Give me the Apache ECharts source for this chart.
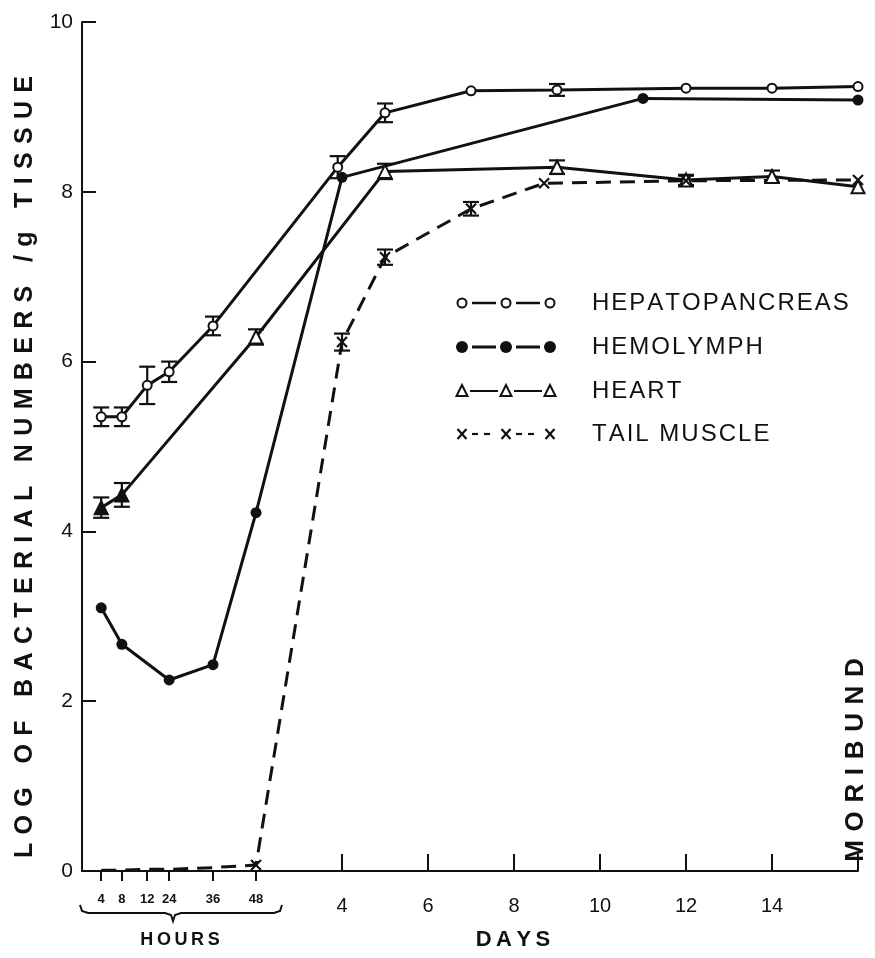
<!DOCTYPE html>
<html><head><meta charset="utf-8">
<script src="https://cdn.jsdelivr.net/npm/echarts@6/dist/echarts.min.js"></script>
<style>html,body{margin:0;padding:0;background:#fff}#c{width:875px;height:958px}</style>
</head><body><div id="c"></div>
<script>
// ---- axis definitions (broken x axis: first 48 hours, then days) ----
const hourTicks = [4, 8, 12, 24, 36, 48];
const hourTickPos = [-1.6, -1.12, -0.53, -0.02, 1.0, 2.0]; // axis position of each hour tick (day units)
const dayTicks = [4, 6, 8, 10, 12, 14, 16];
const dayTickLabels = ['4', '6', '8', '10', '12', '14', ''];
const yTickInterval = 2;

// ---- HEPATOPANCREAS ----
const hepatoHours = [4, 8, 12, 24, 36];
const hepatoHourVals = [5.35, 5.35, 5.72, 5.88, 6.42];
const hepatoHourErr = [0.11, 0.11, 0.22, 0.12, 0.11];
const hepatoDays = [3.9, 5, 7, 9, 12, 14, 16];
const hepatoDayVals = [8.29, 8.93, 9.19, 9.2, 9.22, 9.22, 9.24];
const hepatoDayErr = [0.13, 0.11, 0, 0.07, 0, 0, 0];

// ---- HEMOLYMPH ----
const hemoHours = [4, 8, 24, 36, 48];
const hemoHourVals = [3.10, 2.67, 2.25, 2.43, 4.22];
const hemoDays = [4, 11, 16];
const hemoDayVals = [8.17, 9.1, 9.08];

// ---- HEART ----
const heartHours = [4, 8, 48];
const heartHourVals = [4.28, 4.43, 6.29];
const heartHourErr = [0.12, 0.14, 0.09];
const heartDays = [5, 9, 12, 14, 16];
const heartDayVals = [8.24, 8.29, 8.14, 8.18, 8.06];
const heartDayErr = [0.09, 0.08, 0.06, 0.07, 0];

// ---- TAIL MUSCLE ----
const tailHours = [4, 8, 12, 24, 36, 48];
const tailHourVals = [0.01, 0.01, 0.02, 0.02, 0.04, 0.07];
const tailDays = [4, 5, 7, 8.7, 12, 16];
const tailDayVals = [6.23, 7.23, 7.8, 8.1, 8.13, 8.14];
const tailDayErr = [0.1, 0.09, 0.08, 0, 0.06, 0];

// ---- helpers ----
const hourPos = h => hourTickPos[hourTicks.indexOf(h)];
function pts(hours, hv, days, dv) {
  const a = hours.map((h, i) => [hourPos(h), hv[i]]);
  return a.concat(days.map((d, i) => [d, dv[i]]));
}
function errPts(hours, hv, he, days, dv, de) {
  const out = [];
  hours.forEach((h, i) => { if (he && he[i] > 0) out.push([hourPos(h), hv[i], he[i]]); });
  days.forEach((d, i) => { if (de && de[i] > 0) out.push([d, dv[i], de[i]]); });
  return out;
}
const spaced = (s, sep) => s.split('').join(sep);
const INK = '#111';
const FONT = '"Liberation Sans", Arial, Helvetica, sans-serif';

function renderErr(params, api) {
  const x = api.value(0), y = api.value(1), e = api.value(2);
  const t = api.coord([x, y + e]), b = api.coord([x, y - e]);
  const hw = 8;
  const st = { stroke: INK, lineWidth: 2.2 };
  return { type: 'group', children: [
    { type: 'line', shape: { x1: t[0], y1: t[1], x2: b[0], y2: b[1] }, style: st },
    { type: 'line', shape: { x1: t[0] - hw, y1: t[1], x2: t[0] + hw, y2: t[1] }, style: st },
    { type: 'line', shape: { x1: b[0] - hw, y1: b[1], x2: b[0] + hw, y2: b[1] }, style: st }
  ]};
}
function errSeries(data) {
  return { type: 'custom', renderItem: renderErr, data: data, encode: { x: 0, y: 1 }, clip: false, z: 1, silent: true };
}

const X_SYM = 'path://M0,0L10,10M10,0L0,10';

const hepatoData = pts(hepatoHours, hepatoHourVals, hepatoDays, hepatoDayVals);
const hemoData = pts(hemoHours, hemoHourVals, hemoDays, hemoDayVals);
const heartData = pts(heartHours, heartHourVals, heartDays, heartDayVals).map((p, i) =>
  ({ value: p, symbol: i < 2 ? 'triangle' : 'emptyTriangle' }));
const tailData = pts(tailHours, tailHourVals, tailDays, tailDayVals).map((p, i) =>
  ({ value: p, symbol: (i < tailHours.length - 1) ? 'none' : X_SYM }));

const chart = echarts.init(document.getElementById('c'), null, { renderer: 'canvas' });

const lbl = (v, arr, labels) => {
  const i = arr.findIndex(p => Math.abs(p - v) < 1e-6);
  return i >= 0 ? labels[i] : '';
};

// legend graphics
const legX = [462, 506, 550];
const legY = [303, 347, 391, 434];
const legendEls = [];
function legLine(x1, x2, y1, w, y2) {
  legendEls.push({ type: 'line', shape: { x1, y1, x2, y2: (y2 === undefined ? y1 : y2) }, style: { stroke: INK, lineWidth: w || 2.5 } });
}
// row 1: open circles
legLine(472, 496, legY[0]); legLine(516, 540, legY[0]);
legX.forEach(x => legendEls.push({ type: 'circle', shape: { cx: x, cy: legY[0], r: 4.5 }, style: { fill: '#fff', stroke: INK, lineWidth: 2 } }));
// row 2: filled circles
legLine(472, 496, legY[1], 3); legLine(516, 540, legY[1], 3);
legX.forEach(x => legendEls.push({ type: 'circle', shape: { cx: x, cy: legY[1], r: 6 }, style: { fill: INK } }));
// row 3: open triangles
legLine(470, 498, legY[2], 2); legLine(514, 542, legY[2], 2);
legX.forEach(x => legendEls.push({ type: 'polygon', shape: { points: [[x, legY[2] - 6], [x - 5.5, legY[2] + 5], [x + 5.5, legY[2] + 5]] }, style: { fill: '#fff', stroke: INK, lineWidth: 2 } }));
// row 4: x - - x - - x
legX.forEach(x => {
  legLine(x - 4.5, x + 4.5, legY[3] - 5, 2.2, legY[3] + 5);
  legLine(x + 4.5, x - 4.5, legY[3] - 5, 2.2, legY[3] + 5);
});
[[472, 478], [484, 490], [516, 522], [528, 534]].forEach(s => legLine(s[0], s[1], legY[3], 2.2));
const legNames = ['HEPATOPANCREAS', 'HEMOLYMPH', 'HEART', 'TAIL MUSCLE'];
legNames.forEach((n, i) => legendEls.push({ type: 'text', x: 592, y: legY[i], style: { text: spaced(n, '\u200A'), font: `24px ${FONT}`, fill: INK, textVerticalAlign: 'middle', textAlign: 'left' } }));

const option = {
  backgroundColor: '#fff',
  animation: false,
  grid: { left: 82, right: 17, top: 22, bottom: 87, containLabel: false },
  xAxis: [
    { type: 'value', min: -2.047, max: 16, position: 'bottom',
      axisLine: { show: true, onZero: false, lineStyle: { color: INK, width: 2 } },
      axisTick: { show: true, inside: false, length: 10, customValues: hourTickPos, lineStyle: { color: INK, width: 2 } },
      axisLabel: { customValues: hourTickPos, formatter: v => lbl(v, hourTickPos, hourTicks.map(String)), fontSize: 13, fontWeight: 'bold', fontFamily: FONT, color: INK, margin: 22 },
      splitLine: { show: false } },
    { type: 'value', min: -2.047, max: 16, position: 'bottom',
      axisLine: { show: false, onZero: false },
      axisTick: { show: true, inside: true, length: 17, customValues: dayTicks, lineStyle: { color: INK, width: 2 } },
      axisLabel: { customValues: dayTicks, formatter: v => lbl(v, dayTicks, dayTickLabels), fontSize: 20, fontFamily: FONT, color: INK, margin: 25 },
      splitLine: { show: false } }
  ],
  yAxis: { type: 'value', min: 0, max: 10, interval: yTickInterval, position: 'left',
    axisLine: { show: true, onZero: false, lineStyle: { color: INK, width: 2 } },
    axisTick: { show: true, inside: true, length: 14, lineStyle: { color: INK, width: 2 } },
    axisLabel: { fontSize: 21, fontFamily: FONT, color: INK, margin: 9 },
    splitLine: { show: false } },
  series: [
    errSeries(errPts(hepatoHours, hepatoHourVals, hepatoHourErr, hepatoDays, hepatoDayVals, hepatoDayErr)),
    errSeries(errPts(heartHours, heartHourVals, heartHourErr, heartDays, heartDayVals, heartDayErr)),
    errSeries(errPts([], [], null, tailDays, tailDayVals, tailDayErr)),
    { name: 'HEPATOPANCREAS', type: 'line', data: hepatoData, symbol: 'emptyCircle', symbolSize: 9, z: 3,
      lineStyle: { color: INK, width: 3 }, itemStyle: { color: INK, borderColor: INK, borderWidth: 2 } },
    { name: 'HEMOLYMPH', type: 'line', data: hemoData, symbol: 'circle', symbolSize: 11, z: 3,
      lineStyle: { color: INK, width: 3 }, itemStyle: { color: INK } },
    { name: 'HEART', type: 'line', data: heartData, symbolSize: 13, z: 3,
      lineStyle: { color: INK, width: 3 }, itemStyle: { color: INK, borderColor: INK, borderWidth: 2 } },
    { name: 'TAIL MUSCLE', type: 'line', data: tailData, symbol: X_SYM, symbolSize: 10, z: 3,
      lineStyle: { color: INK, width: 3, type: [15, 9] }, itemStyle: { color: INK, borderColor: INK, borderWidth: 2.2 } }
  ],
  graphic: [
    { type: 'text', x: 25, y: 467, rotation: Math.PI / 2,
      style: { text: spaced('LOG OF BACTERIAL NUMBERS /g TISSUE', '\u2004'), font: `bold 25px ${FONT}`, fill: INK, textAlign: 'center', textVerticalAlign: 'middle' } },
    { type: 'text', x: 856, y: 760, rotation: Math.PI / 2,
      style: { text: spaced('MORIBUND', '\u2004'), font: `bold 26px ${FONT}`, fill: INK, textAlign: 'center', textVerticalAlign: 'middle' } },
    { type: 'text', x: 180, y: 940,
      style: { text: spaced('HOURS', '\u2009'), font: `bold 18px ${FONT}`, fill: INK, textAlign: 'center', textVerticalAlign: 'middle' } },
    { type: 'text', x: 513, y: 940,
      style: { text: spaced('DAYS', '\u2009'), font: `bold 22px ${FONT}`, fill: INK, textAlign: 'center', textVerticalAlign: 'middle' } },
    { type: 'polyline', shape: { points: [[80, 905], [82, 911], [88, 913], [165, 913], [171, 915], [173, 921], [175, 915], [181, 913], [274, 913], [280, 911], [282, 905]] },
      style: { stroke: INK, lineWidth: 2, fill: null } }
  ].concat(legendEls)
};
chart.setOption(option);
</script>
</body></html>
